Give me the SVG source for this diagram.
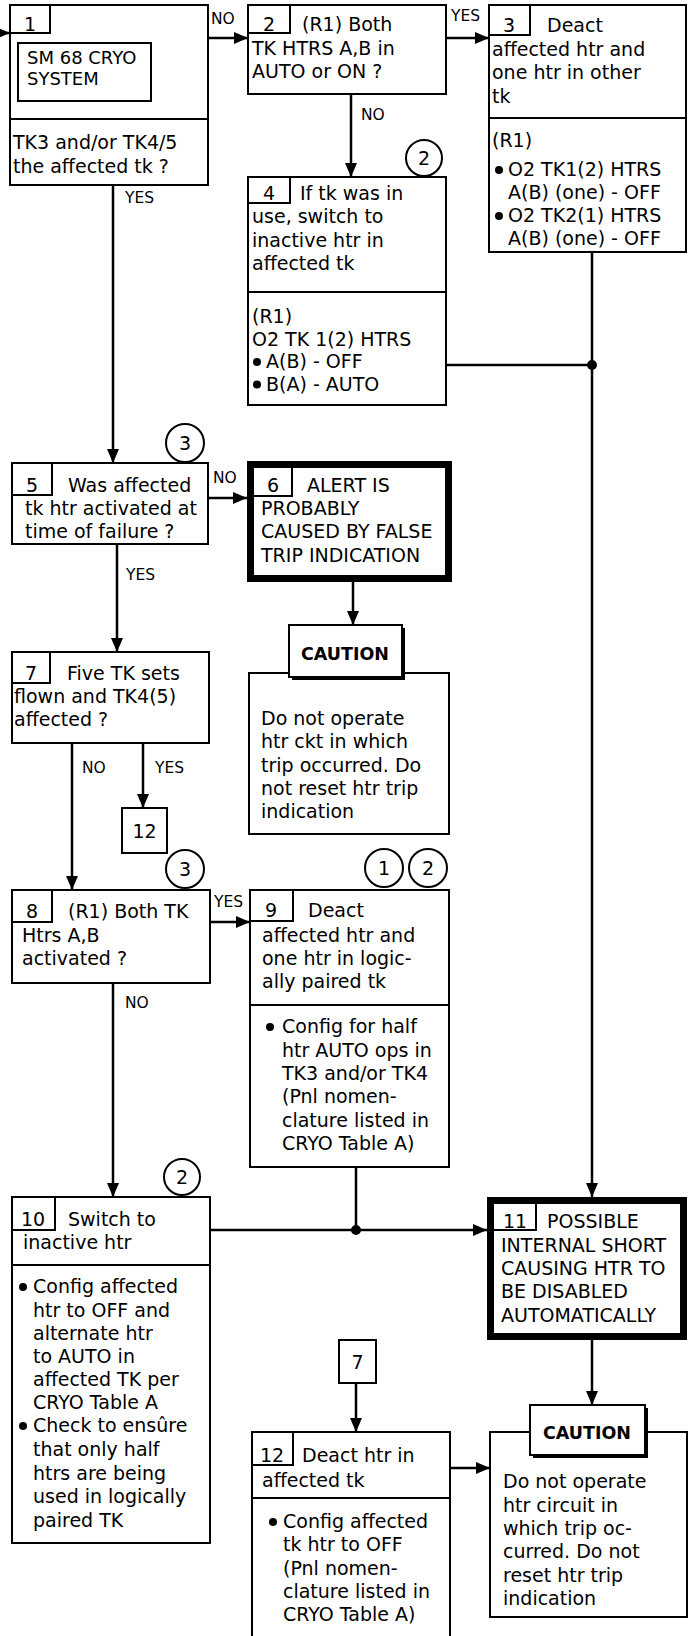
<svg xmlns="http://www.w3.org/2000/svg" width="688" height="1636" viewBox="0 0 688 1636">
<style>
text{font-family:"DejaVu Sans","Open Sans",sans-serif;font-size:19px;fill:#000}
.lb{font-size:15.5px}
.num{text-anchor:middle}
.cau{font-weight:bold;font-size:17.5px;text-anchor:middle}
.sm{font-size:18px}
.box{fill:#fff;stroke:#000;stroke-width:2}
.thin{fill:none;stroke:#000;stroke-width:2}
.thick{fill:#fff;stroke:#000;stroke-width:7}
.cn{fill:none;stroke:#000;stroke-width:2.5}
.arr{marker-end:url(#ah)}
.circ{fill:#fff;stroke:#000;stroke-width:2}
.bul{fill:#000}
</style>
<defs>
<marker id="ah" viewBox="0 0 14 12" refX="14" refY="6" markerWidth="14" markerHeight="12" markerUnits="userSpaceOnUse" orient="auto"><path d="M0,0 L14,6 L0,12 z" fill="#000"/></marker>
</defs>
<rect width="688" height="1636" fill="#fff"/>

<g id="connectors">
<path class="cn arr" d="M0,33 H10"/>
<path class="cn arr" d="M208,38 H248"/>
<text class="lb" x="211" y="24">NO</text>
<path class="cn arr" d="M446,38 H489"/>
<text class="lb" x="451" y="21">YES</text>
<path class="cn arr" d="M351,94 V177"/>
<text class="lb" x="361" y="120">NO</text>
<path class="cn arr" d="M113,185 V463"/>
<text class="lb" x="125" y="203">YES</text>
<path class="cn arr" d="M592,252 V1197"/>
<path class="cn" d="M446,365 H592"/>
<circle cx="592" cy="365" r="5" fill="#000"/>
<path class="cn arr" d="M208,498 H247"/>
<text class="lb" x="213" y="483">NO</text>
<path class="cn arr" d="M117,544 V652"/>
<text class="lb" x="126" y="580">YES</text>
<path class="cn arr" d="M353,582 V625"/>
<path class="cn arr" d="M72,743 V890"/>
<text class="lb" x="82" y="773">NO</text>
<path class="cn arr" d="M143,743 V808"/>
<text class="lb" x="155" y="773">YES</text>
<path class="cn arr" d="M210,922 H250"/>
<text class="lb" x="214" y="907">YES</text>
<path class="cn arr" d="M113,983 V1197"/>
<text class="lb" x="125" y="1008">NO</text>
<path class="cn" d="M356,1167 V1230"/>
<path class="cn arr" d="M210,1230 H487"/>
<circle cx="356" cy="1230" r="5" fill="#000"/>
<path class="cn arr" d="M592,1340 V1405"/>
<path class="cn arr" d="M356,1383 V1432"/>
<path class="cn arr" d="M450,1468 H490"/>
</g>

<g id="n1">
<rect class="box" x="10" y="5" width="198" height="180"/>
<path class="thin" d="M10,119 H208 M10,33 H50 V5"/>
<text class="num" x="30" y="31">1</text>
<rect class="box" x="18" y="43" width="133" height="58"/>
<text class="sm" x="27" y="64">SM 68 CRYO</text>
<text class="sm" x="27" y="85">SYSTEM</text>
<text x="13" y="149">TK3 and/or TK4/5</text>
<text x="13" y="173">the affected tk ?</text>
</g>

<g id="n2">
<rect class="box" x="248" y="5" width="198" height="89"/>
<path class="thin" d="M248,33 H290 V5"/>
<text class="num" x="269" y="31">2</text>
<text x="302" y="31">(R1) Both</text>
<text x="252" y="55">TK HTRS A,B in</text>
<text x="252" y="78">AUTO or ON ?</text>
</g>

<g id="n3">
<rect class="box" x="489" y="5" width="197" height="247"/>
<path class="thin" d="M489,118 H686 M489,35 H530 V5"/>
<text class="num" x="509" y="32">3</text>
<text x="547" y="32">Deact</text>
<text x="492" y="56">affected htr and</text>
<text x="492" y="79">one htr in other</text>
<text x="492" y="103">tk</text>
<text x="492" y="147">(R1)</text>
<circle class="bul" cx="499" cy="170" r="4"/>
<text x="508" y="176">O2 TK1(2) HTRS</text>
<text x="508" y="199">A(B) (one) - OFF</text>
<circle class="bul" cx="499" cy="216" r="4"/>
<text x="508" y="222">O2 TK2(1) HTRS</text>
<text x="508" y="245">A(B) (one) - OFF</text>
</g>

<g id="n4">
<rect class="box" x="248" y="177" width="198" height="228"/>
<path class="thin" d="M248,292 H446 M248,203 H290 V177"/>
<circle class="circ" cx="424" cy="158" r="18"/>
<text class="num" x="424" y="165">2</text>
<text class="num" x="269" y="200">4</text>
<text x="300" y="200">If tk was in</text>
<text x="252" y="223">use, switch to</text>
<text x="252" y="247">inactive htr in</text>
<text x="252" y="270">affected tk</text>
<text x="252" y="323">(R1)</text>
<text x="252" y="345.5">O2 TK 1(2) HTRS</text>
<circle class="bul" cx="257" cy="362" r="4"/>
<text x="266" y="368">A(B) - OFF</text>
<circle class="bul" cx="257" cy="384.5" r="4"/>
<text x="266" y="390.5">B(A) - AUTO</text>
</g>

<g id="n5">
<rect class="box" x="12" y="463" width="196" height="81"/>
<path class="thin" d="M12,495 H52 V463"/>
<circle class="circ" cx="185" cy="443" r="19"/>
<text class="num" x="185" y="450">3</text>
<text class="num" x="32" y="492">5</text>
<text x="68" y="492">Was affected</text>
<text x="25" y="515">tk htr activated at</text>
<text x="25" y="538">time of failure ?</text>
</g>

<g id="n6">
<rect class="thick" x="250.5" y="464.5" width="198" height="114"/>
<path class="thin" d="M254,496 H292 V468"/>
<text class="num" x="273" y="492">6</text>
<text x="307" y="492">ALERT IS</text>
<text x="261" y="515">PROBABLY</text>
<text x="261" y="538">CAUSED BY FALSE</text>
<text x="261" y="562">TRIP INDICATION</text>
</g>

<g id="caution1">
<rect class="box" x="249" y="673" width="200" height="161"/>
<rect x="292" y="628" width="113" height="52" fill="#000"/>
<rect class="box" x="289" y="625" width="113" height="52"/>
<text class="cau" x="345" y="660">CAUTION</text>
<text x="261" y="725">Do not operate</text>
<text x="261" y="748">htr ckt in which</text>
<text x="261" y="772">trip occurred. Do</text>
<text x="261" y="795">not reset htr trip</text>
<text x="261" y="818">indication</text>
</g>

<g id="n7">
<rect class="box" x="12" y="652" width="197" height="91"/>
<path class="thin" d="M12,683 H50 V652"/>
<text class="num" x="31" y="680">7</text>
<text x="67" y="680">Five TK sets</text>
<text x="14" y="703">flown and TK4(5)</text>
<text x="14" y="726">affected ?</text>
</g>

<g id="ref12">
<rect class="box" x="122" y="808" width="45" height="45"/>
<text class="num" x="144.5" y="838">12</text>
</g>

<g id="n8">
<rect class="box" x="12" y="890" width="198" height="93"/>
<path class="thin" d="M12,922 H52 V890"/>
<circle class="circ" cx="185" cy="869" r="19"/>
<text class="num" x="185" y="876">3</text>
<text class="num" x="32" y="918">8</text>
<text x="68" y="918">(R1) Both TK</text>
<text x="22" y="942">Htrs A,B</text>
<text x="22" y="965">activated ?</text>
</g>

<g id="n9">
<rect class="box" x="250" y="890" width="199" height="277"/>
<path class="thin" d="M250,1005 H449 M250,921 H293 V890"/>
<circle class="circ" cx="384" cy="868" r="19"/>
<text class="num" x="384" y="875">1</text>
<circle class="circ" cx="428" cy="868" r="19"/>
<text class="num" x="428" y="875">2</text>
<text class="num" x="271" y="917">9</text>
<text x="308" y="917">Deact</text>
<text x="262" y="942">affected htr and</text>
<text x="262" y="965">one htr in logic-</text>
<text x="262" y="988">ally paired tk</text>
<circle class="bul" cx="270" cy="1027" r="4"/>
<text x="282" y="1033">Config for half</text>
<text x="282" y="1057">htr AUTO ops in</text>
<text x="282" y="1080">TK3 and/or TK4</text>
<text x="282" y="1103">(Pnl nomen-</text>
<text x="282" y="1127">clature listed in</text>
<text x="282" y="1150">CRYO Table A)</text>
</g>

<g id="n10">
<rect class="box" x="12" y="1197" width="198" height="346"/>
<path class="thin" d="M12,1265 H210 M12,1230 H55 V1197"/>
<circle class="circ" cx="182" cy="1177" r="18"/>
<text class="num" x="182" y="1184">2</text>
<text class="num" x="33" y="1226">10</text>
<text x="68" y="1226">Switch to</text>
<text x="23" y="1249">inactive htr</text>
<circle class="bul" cx="23" cy="1287" r="4"/>
<text x="33" y="1293">Config affected</text>
<text x="33" y="1317">htr to OFF and</text>
<text x="33" y="1340">alternate htr</text>
<text x="33" y="1363">to AUTO in</text>
<text x="33" y="1386">affected TK per</text>
<text x="33" y="1409">CRYO Table A</text>
<circle class="bul" cx="23" cy="1426" r="4"/>
<text x="33" y="1432">Check to ensûre</text>
<text x="33" y="1456">that only half</text>
<text x="33" y="1480">htrs are being</text>
<text x="33" y="1503">used in logically</text>
<text x="33" y="1527">paired TK</text>
</g>

<g id="n11">
<rect class="thick" x="490.5" y="1200.5" width="193" height="136"/>
<path class="thin" d="M494,1230 H536 V1204"/>
<text class="num" x="515" y="1228">11</text>
<text x="547" y="1228">POSSIBLE</text>
<text x="501" y="1252">INTERNAL SHORT</text>
<text x="501" y="1275">CAUSING HTR TO</text>
<text x="501" y="1298">BE DISABLED</text>
<text x="501" y="1322">AUTOMATICALLY</text>
</g>

<g id="ref7">
<rect class="box" x="339" y="1340" width="37" height="43"/>
<text class="num" x="357.5" y="1369">7</text>
</g>

<g id="n12">
<path class="box" d="M252,1636 V1432 H450 V1636"/>
<path class="thin" d="M252,1498 H450 M252,1465 H293 V1432"/>
<text class="num" x="272" y="1462">12</text>
<text x="302" y="1462">Deact htr in</text>
<text x="262" y="1487">affected tk</text>
<circle class="bul" cx="273" cy="1522" r="4"/>
<text x="283" y="1528">Config affected</text>
<text x="283" y="1551">tk htr to OFF</text>
<text x="283" y="1575">(Pnl nomen-</text>
<text x="283" y="1598">clature listed in</text>
<text x="283" y="1621">CRYO Table A)</text>
</g>

<g id="caution2">
<rect class="box" x="490" y="1432" width="197" height="185"/>
<rect x="533" y="1408" width="115" height="50" fill="#000"/>
<rect class="box" x="530" y="1405" width="115" height="50"/>
<text class="cau" x="587" y="1439">CAUTION</text>
<text x="503" y="1488">Do not operate</text>
<text x="503" y="1512">htr circuit in</text>
<text x="503" y="1535">which trip oc-</text>
<text x="503" y="1558">curred. Do not</text>
<text x="503" y="1582">reset htr trip</text>
<text x="503" y="1605">indication</text>
</g>
</svg>
